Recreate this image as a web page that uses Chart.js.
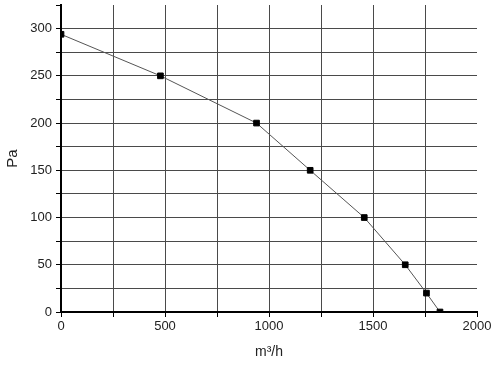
<!DOCTYPE html>
<html>
<head>
<meta charset="utf-8">
<script src="https://cdn.jsdelivr.net/npm/chart.js@4"></script>
<style>
  html, body { margin: 0; padding: 0; background: #fff; }
  #wrap { width: 500px; height: 373px; }
</style>
</head>
<body>
<div id="wrap"><canvas id="fanChart" width="500" height="373"></canvas></div>
<script>
// Airflow (m3/h) vs pressure (Pa)
const flowValues = [0, 478, 940, 1198, 1458, 1655, 1757, 1822];
const pressureValues = [294, 250, 200, 150, 100, 50, 20, 0];

const xLabelStep = 500;
const yLabelStep = 50;

Chart.defaults.font.family = "'Liberation Sans', Arial, sans-serif";
Chart.defaults.font.size = 13;
Chart.defaults.color = '#222222';

const points = flowValues.map((x, i) => ({ x: x, y: pressureValues[i] }));

new Chart(document.getElementById('fanChart'), {
    type: 'scatter',
    data: {
        datasets: [{
            data: points,
            showLine: true,
            borderColor: '#555555',
            borderWidth: 1,
            pointStyle: 'rect',
            pointRadius: 4,
            pointBackgroundColor: '#000000',
            pointBorderColor: '#000000',
            tension: 0
        }]
    },
    options: {
        responsive: false,
        animation: false,
        layout: {
            padding: { top: 5, right: 23, left: 0, bottom: 0 }
        },
        plugins: {
            legend: { display: false },
            tooltip: { enabled: false }
        },
        scales: {
            x: {
                type: 'linear',
                min: 0,
                max: 2000,
                afterFit: function (axis) { axis.height = 61; },
                border: { color: '#000000', width: 2 },
                grid: {
                    color: function (ctx) {
                        return ctx.tick && ctx.tick.value === 2000 ? 'rgba(0,0,0,0)' : '#4a4a4a';
                    },
                    tickColor: '#000000',
                    tickLength: 5,
                    lineWidth: 1
                },
                ticks: {
                    stepSize: 250,
                    autoSkip: false,
                    maxRotation: 0,
                    padding: 2,
                    callback: function (value) {
                        return value % xLabelStep === 0 ? value : '';
                    }
                },
                title: {
                    display: true,
                    text: 'm³/h',
                    font: { size: 14 },
                    padding: { top: 4, bottom: 12 }
                }
            },
            y: {
                type: 'linear',
                min: 0,
                max: 325,
                afterFit: function (axis) {
                    axis.width = 61;
                    axis.paddingTop = 0;
                    axis.paddingBottom = 0;
                },
                border: { color: '#000000', width: 2 },
                grid: {
                    color: function (ctx) {
                        return ctx.tick && ctx.tick.value === 325 ? 'rgba(0,0,0,0)' : '#4a4a4a';
                    },
                    tickColor: '#000000',
                    tickLength: 5,
                    lineWidth: 1
                },
                ticks: {
                    stepSize: 25,
                    autoSkip: false,
                    padding: 4,
                    callback: function (value) {
                        return value % yLabelStep === 0 ? value : '';
                    }
                },
                title: {
                    display: true,
                    text: 'Pa',
                    font: { size: 15 },
                    padding: { top: 4, bottom: 4 }
                }
            }
        }
    }
});
</script>
</body>
</html>
